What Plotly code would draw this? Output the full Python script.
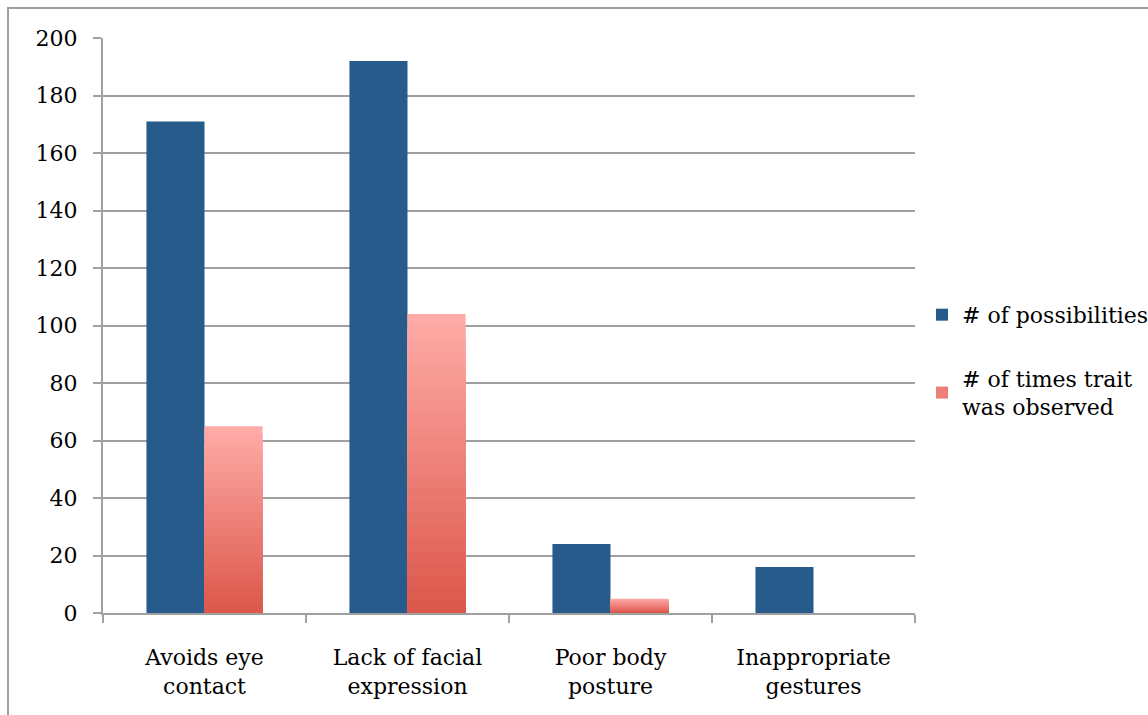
import plotly.graph_objects as go

categories = ["Avoids eye<br>contact", "Lack of facial<br>expression", "Poor body<br>posture", "Inappropriate<br>gestures"]
possibilities = [171, 192, 24, 16]
observed = [65, 104, 5, 0]
y_ticks = [0, 20, 40, 60, 80, 100, 120, 140, 160, 180, 200]

BLUE = "#275b8c"
GREY = "#a0a0a0"
FONT = "DejaVu Serif"

# pink bars fade from light at the top to red at the base
top_rgb = (254, 170, 166)
base_rgb = (220, 88, 76)
n_layers = 24

fig = go.Figure()

fig.add_trace(go.Bar(
    x=categories, y=possibilities, name="# of possibilities",
    marker=dict(color=BLUE, line=dict(width=0)),
    offset=-0.286, width=0.286, legendgroup="a",
))

for k in range(n_layers):
    f = k / (n_layers - 1)
    c = tuple(round(top_rgb[i] + (base_rgb[i] - top_rgb[i]) * f) for i in range(3))
    frac = 1 - k / n_layers
    fig.add_trace(go.Bar(
        x=categories, y=[v * frac for v in observed],
        name="# of times trait<br>was observed",
        marker=dict(color="rgb(%d,%d,%d)" % c, line=dict(width=0)),
        offset=0, width=0.286, legendgroup="b",
        showlegend=(k == n_layers // 2),
        hoverinfo="skip" if k else None,
    ))

# outer frame of the chart
fig.add_shape(type="rect", xref="paper", yref="paper",
              x0=-0.117, x1=1.35, y0=-0.25, y1=1.052,
              line=dict(color=GREY, width=2), layer="below")

fig.update_layout(
    width=1148, height=715,
    barmode="overlay",
    plot_bgcolor="white", paper_bgcolor="white",
    margin=dict(l=103, r=233, t=38, b=102, autoexpand=False),
    font=dict(family=FONT, size=22, color="black"),
    showlegend=True,
    legend=dict(x=1.0086, y=0.555, xanchor="left", yanchor="top",
                tracegroupgap=32, font=dict(size=22),
                itemwidth=30),
    xaxis=dict(
        showline=True, linecolor=GREY, linewidth=2,
        ticks="outside", tickson="boundaries", ticklen=8,
        tickcolor=GREY, tickwidth=2, ticklabelstandoff=24,
        showgrid=False,
    ),
    yaxis=dict(
        range=[0, 200], tickvals=y_ticks,
        showline=True, linecolor=GREY, linewidth=2,
        ticks="outside", ticklen=8, tickcolor=GREY, tickwidth=2,
        ticklabelstandoff=11,
        showgrid=True, gridcolor=GREY, gridwidth=2,
        zeroline=False,
    ),
)

fig.write_html("out.html", config={"displayModeBar": False},
               post_script="document.body.style.margin='0';")
